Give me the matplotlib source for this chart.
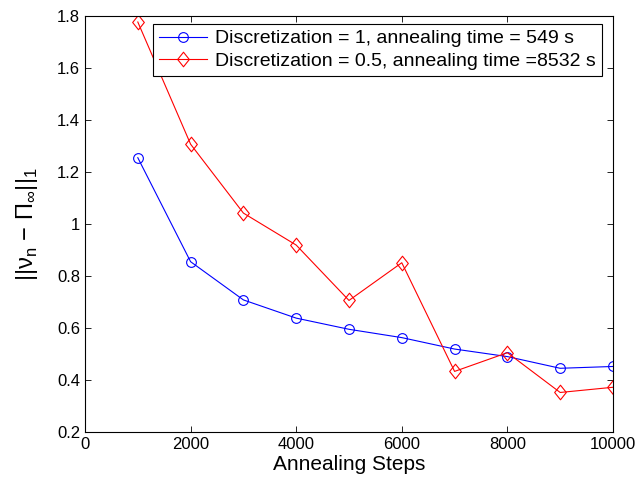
import matplotlib
matplotlib.use('Agg')
import matplotlib.pyplot as plt
from matplotlib.path import Path

plt.rcParams['font.family'] = ['Liberation Sans', 'DejaVu Sans']
plt.rcParams['mathtext.fontset'] = 'custom'
plt.rcParams['mathtext.rm'] = 'Liberation Sans'

steps = [1000, 2000, 3000, 4000, 5000, 6000, 7000, 8000, 9000, 10000]
err_d1 = [1.255, 0.855, 0.708, 0.638, 0.595, 0.563, 0.519, 0.490, 0.445, 0.452]
err_d05 = [1.777, 1.307, 1.042, 0.919, 0.706, 0.851, 0.433, 0.505, 0.352, 0.372]

label_d1 = 'Discretization = 1, annealing time = 549 s'
label_d05 = 'Discretization = 0.5, annealing time =8532 s'

# diamond a bit taller than wide
diamond = Path([(0, 1), (0.8, 0), (0, -1), (-0.8, 0), (0, 1)],
               [Path.MOVETO, Path.LINETO, Path.LINETO, Path.LINETO, Path.CLOSEPOLY])

fig = plt.figure(figsize=(6.43, 4.9), dpi=100)
ax = fig.add_axes([0.1322, 0.1184, 0.8211, 0.8489])

ax.plot(steps, err_d1, color='blue', marker='o', markersize=7, markerfacecolor='none',
        markeredgewidth=0.8, linewidth=0.8, label=label_d1)
ax.plot(steps, err_d05, color='red', marker=diamond, markersize=10.5, markerfacecolor='none',
        markeredgewidth=0.8, linewidth=0.8, label=label_d05)

ax.set_xlim(0, 10000)
ax.set_ylim(0.2, 1.8)
ax.set_xticks(range(0, 10001, 2000))
ax.set_yticks([0.2, 0.4, 0.6, 0.8, 1.0, 1.2, 1.4, 1.6, 1.8])
ax.set_yticklabels(['0.2', '0.4', '0.6', '0.8', '1', '1.2', '1.4', '1.6', '1.8'])
ax.tick_params(direction='in', top=True, right=True, length=4, width=0.6, labelsize=12)
for s in ax.spines.values():
    s.set_linewidth(0.8)

ax.set_xlabel('Annealing Steps', fontsize=15, labelpad=2)
ax.set_ylabel(r'||ν$_\mathregular{n}$ − Π$_\mathregular{∞}$||$_\mathregular{1}$',
              fontsize=17, labelpad=12)

leg = ax.legend(loc='upper right', bbox_to_anchor=(0.9786, 0.9808), borderaxespad=0,
                fontsize=14, fancybox=False, edgecolor='black', framealpha=1,
                handlelength=2.5, handletextpad=0.4, borderpad=0.3, labelspacing=0.25)
leg.get_frame().set_linewidth(0.8)

fig.savefig('out.png', dpi=100)
